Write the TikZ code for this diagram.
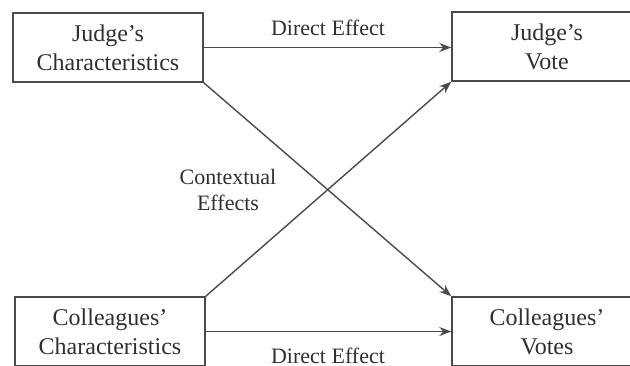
\documentclass[tikz,border=0pt]{standalone}
\usepackage{fontspec}
\setmainfont{Liberation Serif}
\usetikzlibrary{arrows.meta}
\definecolor{linegray}{HTML}{4A4A4A}
\definecolor{textgray}{HTML}{303030}
\begin{document}
\begin{tikzpicture}[x=1pt,y=-1pt,
  box/.style={draw=linegray,line width=1.5pt,minimum width=190pt,minimum height=69pt,
    inner sep=0pt,align=center,text=textgray,font=\fontsize{24}{29}\selectfont},
  lbl/.style={text=textgray,align=center,font=\fontsize{22}{26}\selectfont},
  conn/.style={draw=linegray,line width=1.4pt,-{Stealth[length=12pt,width=9pt,inset=4pt]}}]
\useasboundingbox (0,0) rectangle (630,365);
\clip (0,0) rectangle (630,365);
\fill[white] (0,0) rectangle (630,365);
\node[box] (jc) at (108,47.5) {Judge’s\\Characteristics};
\node[box] (jv) at (547,46.5) {Judge’s\\Vote};
\node[box] (cc) at (110,331.5) {Colleagues’\\Characteristics};
\node[box] (cv) at (547,331.5) {Colleagues’\\Votes};
\draw[conn] (jc.east) -- (jc.east -| jv.west);
\draw[conn] (cc.east) -- (cc.east -| cv.west);
\draw[conn] (jc.south east) -- (cv.north west);
\draw[conn] (cc.north east) -- (jv.south west);
\node[lbl] (de1) at (328,28) {Direct Effect};
\node[lbl] (de2) at (328,356) {Direct Effect};
\node[lbl] (ce) at (228,190) {Contextual\\Effects};
\end{tikzpicture}
\end{document}
